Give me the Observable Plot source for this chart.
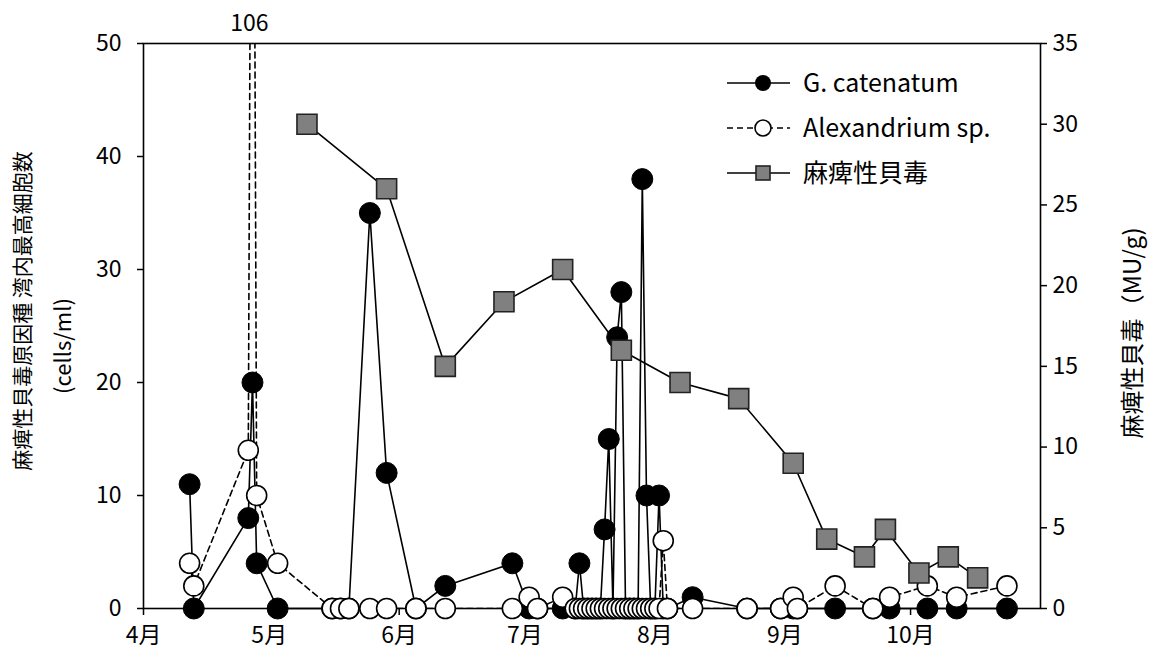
<!DOCTYPE html>
<html><head><meta charset="utf-8">
<script src="https://cdn.jsdelivr.net/npm/d3@7"></script>
<script src="https://cdn.jsdelivr.net/npm/@observablehq/plot@0.6"></script>
<style>
body{margin:0;background:#fff;}
#chart{position:relative;width:1152px;height:657px;}
</style></head><body><div id="chart"></div>
<script>
// ---- data (month-day, year irrelevant) ----
const sampleDates = ["4-12","4-13","4-26","4-27","4-28","5-3","5-16","5-18","5-20","5-25","5-29","6-5","6-12","6-28",
  "7-2","7-4","7-10","7-13","7-14","7-15","7-16","7-17","7-18","7-19","7-20","7-21","7-22","7-23","7-24","7-25",
  "7-26","7-27","7-28","7-29","7-30","7-31","8-1","8-2","8-3","8-4","8-10","8-23","8-31","9-3","9-4","9-13",
  "9-22","9-26","10-5","10-12","10-24"];
const gCatenatum = [11,0,8,20,4,0,0,0,0,35,12,0,2,4,
  0,0,0,0,4,0,0,0,0,0,7,15,0,24,28,0,
  0,0,0,38,10,0,0,10,0,0,1,0,0,0,0,0,
  0,0,0,0,0];
const alexandrium = [4,2,14,106,10,4,0,0,0,0,0,0,0,0,
  1,0,1,0,0,0,0,0,0,0,0,0,0,0,0,0,
  0,0,0,0,0,0,0,0,6,0,0,0,0,1,0,2,
  0,1,2,1,2];
const pspDates = ["5-10","5-29","6-12","6-26","7-10","7-24","8-7","8-21","9-3","9-11","9-20","9-25","10-3","10-10","10-17"];
const pspValues = [30,26,15,19,21,16,14,13,9,4.3,3.2,4.9,2.2,3.2,1.9];
const xTickLabels = ["4月","5月","6月","7月","8月","9月","10月"];
const leftTicks = [0,10,20,30,40,50];
const rightTicks = [0,5,10,15,20,25,30,35];
const seriesNames = ["G. catenatum","Alexandrium sp.","麻痺性貝毒"];
const leftTitle = ["麻痺性貝毒原因種 湾内最高細胞数","(cells/ml)"];
const rightTitle = "麻痺性貝毒（MU/g)";

// ---- build ----
const parse = s => { const [m,d] = s.split("-").map(Number); return new Date(Date.UTC(2000, m-1, d)); };
const S = 50/35; // right-axis scaling into left scale
const samples = sampleDates.map((s,i)=>({date: parse(s), g: gCatenatum[i], a: alexandrium[i]}));
const psp = pspDates.map((s,i)=>({date: parse(s), v: pspValues[i]*S}));
const yMax = leftTicks[leftTicks.length-1];
const FONT = "'Noto Sans CJK JP', 'Noto Sans', sans-serif";
const FS = 23;

const plot = Plot.plot({
  width: 1152, height: 657,
  marginLeft: 143, marginRight: 112, marginTop: 43, marginBottom: 49,
  style: {fontFamily: FONT, fontSize: FS + "px", color: "#000", background: "#fff"},
  x: {type: "utc", domain: [parse("4-1"), parse("11-1")]},
  y: {domain: [0, yMax]},
  marks: [
    Plot.axisX({ticks: d3.utcMonth.range(parse("4-1"), parse("11-1")), tickSize: 7, tickPadding: 11,
      tickFormat: d => xTickLabels[d.getUTCMonth()-3], strokeWidth: 1.5, label: null, fontSize: FS}),
    Plot.axisY({ticks: leftTicks, anchor: "left", tickSize: 6, tickPadding: 16, strokeWidth: 1.5, label: null, fontSize: FS}),
    Plot.axisY({ticks: rightTicks.map(v=>v*S), anchor: "right", tickSize: 6, tickPadding: 6, strokeWidth: 1.5,
      tickFormat: d => String(rightTicks[Math.round(d/S/5)]), label: null, fontSize: FS}),
    Plot.frame({stroke: "#000", strokeWidth: 1.6}),
    Plot.line(samples, {x: "date", y: "g", stroke: "#000", strokeWidth: 1.6}),
    Plot.line(samples, {x: "date", y: "a", stroke: "#000", strokeWidth: 1.6, strokeDasharray: "6,4", clip: true}),
    Plot.line(psp, {x: "date", y: "v", stroke: "#000", strokeWidth: 1.6}),
    Plot.dot(samples, {x: "date", y: "g", r: 10.5, fill: "#000", stroke: "#000", strokeWidth: 1}),
    Plot.dot(samples.filter(d => d.a <= yMax), {x: "date", y: "a", r: 10, fill: "#fff", stroke: "#000", strokeWidth: 1.6}),
    Plot.dot(psp, {x: "date", y: "v", symbol: "square", r: 11.3, fill: "#808080", stroke: "#222", strokeWidth: 1.6}),
    Plot.text(samples.filter(d => d.a > yMax), {x: "date", y: () => yMax, text: d => String(d.a), dy: -20, dx: -3, fontSize: FS}),
    Plot.text([leftTitle[0]], {text: d => d, frameAnchor: "left", textAnchor: "middle", dx: -120, dy: -15, rotate: -90, fontSize: 21}),
    Plot.text([leftTitle[1]], {text: d => d, frameAnchor: "left", textAnchor: "middle", dx: -80, dy: 20, rotate: -90, fontSize: 22}),
    Plot.text([rightTitle], {text: d => d, frameAnchor: "right", textAnchor: "middle", dx: 93, dy: 7, rotate: -90, fontSize: 24})
  ]
});
document.getElementById("chart").appendChild(plot);

// ---- legend ----
const svg = d3.select(plot);
const lg = svg.append("g").attr("font-family", FONT).attr("font-size", 25).attr("text-anchor", "start");
const rows = [
  {y: 83, dash: null, kind: "dot"},
  {y: 128, dash: "6,4", kind: "open"},
  {y: 173, dash: null, kind: "square"}
];
rows.forEach((r, i) => {
  lg.append("line").attr("x1", 727).attr("x2", 790).attr("y1", r.y).attr("y2", r.y)
    .attr("stroke", "#000").attr("stroke-width", 1.6).attr("stroke-dasharray", r.dash);
  if (r.kind === "dot") lg.append("circle").attr("cx", 763).attr("cy", r.y).attr("r", 8).attr("fill", "#000");
  if (r.kind === "open") lg.append("circle").attr("cx", 763).attr("cy", r.y).attr("r", 8).attr("fill", "#fff").attr("stroke", "#000").attr("stroke-width", 1.6);
  if (r.kind === "square") lg.append("rect").attr("x", 756).attr("y", r.y-7).attr("width", 14).attr("height", 14).attr("fill", "#808080").attr("stroke", "#222").attr("stroke-width", 1.6);
  lg.append("text").attr("x", 803).attr("y", r.y).attr("dy", "0.35em").attr("text-anchor", "start").text(seriesNames[i]);
});
</script></body></html>
